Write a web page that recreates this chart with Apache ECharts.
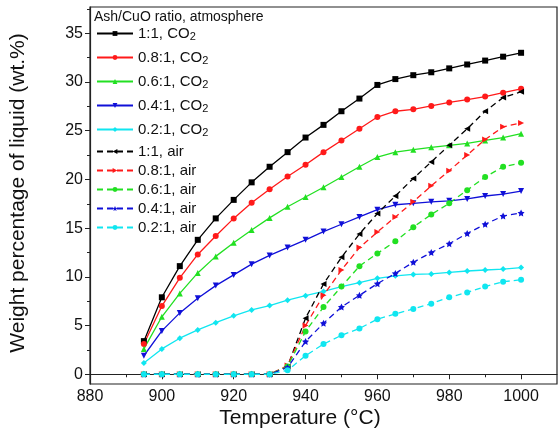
<!DOCTYPE html>
<html>
<head>
<meta charset="utf-8">
<script src="https://cdn.jsdelivr.net/npm/echarts@6/dist/echarts.min.js"></script>
<style>
  html, body { margin: 0; padding: 0; background: #fff; }
  #chart { width: 560px; height: 443px; }
</style>
</head>
<body>
<div id="chart"></div>
<script>
// Reaction temperatures (°C)
const temperatures = [895, 900, 905, 910, 915, 920, 925, 930, 935, 940, 945,
                      950, 955, 960, 965, 970, 975, 980, 985, 990, 995, 1000];

// Liquid fraction (wt.%) under CO2
const co2_1_1   = [3.4, 7.9, 11.1, 13.8, 16.0, 17.9, 19.7, 21.3, 22.8, 24.3, 25.6,
                   27.0, 28.3, 29.7, 30.3, 30.7, 31.0, 31.4, 31.8, 32.2, 32.6, 33.0];
const co2_0_8_1 = [3.1, 7.0, 9.9, 12.3, 14.2, 16.0, 17.6, 19.0, 20.3, 21.5, 22.8,
                   24.0, 25.2, 26.4, 27.0, 27.2, 27.55, 27.9, 28.2, 28.5, 28.9, 29.3];
const co2_0_6_1 = [2.6, 5.9, 8.3, 10.4, 12.1, 13.5, 14.8, 16.05, 17.2, 18.2, 19.2,
                   20.25, 21.3, 22.3, 22.8, 23.05, 23.3, 23.5, 23.7, 24.0, 24.3, 24.7];
const co2_0_4_1 = [1.9, 4.45, 6.3, 7.8, 9.1, 10.2, 11.3, 12.2, 13.0, 13.8, 14.65,
                   15.4, 16.15, 16.9, 17.4, 17.55, 17.7, 17.8, 18.0, 18.3, 18.5, 18.8];
const co2_0_2_1 = [1.15, 2.6, 3.7, 4.55, 5.3, 6.0, 6.6, 7.05, 7.6, 8.07, 8.5,
                   9.0, 9.4, 9.85, 10.1, 10.25, 10.3, 10.45, 10.6, 10.7, 10.8, 10.95];

// Liquid fraction (wt.%) under air
const air_1_1   = [0, 0, 0, 0, 0, 0, 0, 0, 0.8, 5.75, 9.26,
                   12.0, 14.4, 16.5, 18.3, 20.1, 21.8, 23.5, 25.2, 27.0, 28.4, 29.0];
const air_0_8_1 = [0, 0, 0, 0, 0, 0, 0, 0, 0.9, 5.0, 8.1,
                   10.7, 13.0, 14.6, 16.15, 17.7, 19.35, 20.9, 22.5, 24.1, 25.4, 25.8];
const air_0_6_1 = [0, 0, 0, 0, 0, 0, 0, 0, 0.8, 4.4, 6.9,
                   9.0, 11.1, 12.4, 13.65, 15.1, 16.4, 17.55, 18.9, 20.25, 21.3, 21.7];
const air_0_4_1 = [0, 0, 0, 0, 0, 0, 0, 0, 0.7, 3.36, 5.24,
                   6.9, 8.1, 9.3, 10.35, 11.5, 12.5, 13.4, 14.45, 15.4, 16.25, 16.55];
const air_0_2_1 = [0, 0, 0, 0, 0, 0, 0, 0, 0.4, 1.9, 3.1,
                   4.0, 4.7, 5.65, 6.2, 6.7, 7.25, 7.9, 8.4, 9.0, 9.5, 9.7];

// Axis ticks and labels
const xMajorTicks = [880, 900, 920, 940, 960, 980, 1000];
const xMinorTicks = [890, 910, 930, 950, 970, 990];
const yMajorTicks = [0, 5, 10, 15, 20, 25, 30, 35];
const yMinorTicks = [2.5, 7.5, 12.5, 17.5, 22.5, 27.5, 32.5, 37.5];

const FONT = 'Liberation Sans, Arial, Helvetica, sans-serif';
const INK = '#111';

const STAR = 'path://M0,-10L2.94,-4.05L9.51,-3.09L4.76,1.55L5.88,8.09L0,5L-5.88,8.09L-4.76,1.55L-9.51,-3.09L-2.94,-4.05Z';

const seriesDefs = [
  { name: '1:1, CO₂',   data: co2_1_1,   color: '#000000', symbol: 'rect',     rot: 0,   dash: 'solid' },
  { name: '0.8:1, CO₂', data: co2_0_8_1, color: '#ff1a1a', symbol: 'circle',   rot: 0,   dash: 'solid' },
  { name: '0.6:1, CO₂', data: co2_0_6_1, color: '#22e022', symbol: 'triangle', rot: 0,   dash: 'solid' },
  { name: '0.4:1, CO₂', data: co2_0_4_1, color: '#1010d8', symbol: 'triangle', rot: 180, dash: 'solid' },
  { name: '0.2:1, CO₂', data: co2_0_2_1, color: '#10e6f0', symbol: 'diamond',  rot: 0,   dash: 'solid' },
  { name: '1:1, air',   data: air_1_1,   color: '#000000', symbol: 'triangle', rot: 90,  dash: [6, 4] },
  { name: '0.8:1, air', data: air_0_8_1, color: '#ff1a1a', symbol: 'triangle', rot: -90, dash: [6, 4] },
  { name: '0.6:1, air', data: air_0_6_1, color: '#22e022', symbol: 'circle',   rot: 0,   dash: [6, 4] },
  { name: '0.4:1, air', data: air_0_4_1, color: '#1010d8', symbol: STAR,       rot: 0,   dash: [6, 4] },
  { name: '0.2:1, air', data: air_0_2_1, color: '#10e6f0', symbol: 'circle',   rot: 0,   dash: [6, 4] }
];

const series = seriesDefs.map(d => ({
  name: d.name,
  type: 'line',
  xAxisIndex: 0,
  yAxisIndex: 0,
  data: temperatures.map((t, i) => [t, d.data[i]]),
  symbol: d.symbol,
  symbolRotate: d.rot,
  symbolSize: d.symbol === STAR ? 7 : 6,
  showAllSymbol: true,
  color: d.color,
  itemStyle: { color: d.color },
  lineStyle: { color: d.color, width: 1.3, type: d.dash },
  animation: false,
  z: 2
}));

const legendBase = {
  orient: 'vertical',
  left: 96,
  padding: 0,
  itemWidth: 36,
  itemHeight: 6,
  selectedMode: false,
  textStyle: {
    fontFamily: FONT,
    fontSize: 15,
    color: INK
  }
};

const plainNumber = v => String(v);

const chart = echarts.init(document.getElementById('chart'), null, { renderer: 'canvas' });

chart.setOption({
  backgroundColor: '#ffffff',
  animation: false,
  grid: {
    left: 90, right: 3, top: 7, bottom: 59,
    show: true, borderColor: '#222', borderWidth: 1.2,
    backgroundColor: 'transparent'
  },
  xAxis: [
    {
      type: 'value', min: 880, max: 1010, position: 'bottom',
      axisLine: { show: true, lineStyle: { color: '#222', width: 1.2 } },
      axisTick: { show: true, customValues: xMajorTicks, length: 5, inside: false, lineStyle: { color: '#222' } },
      axisLabel: { show: true, customValues: xMajorTicks, formatter: plainNumber, fontFamily: FONT, fontSize: 16, color: INK, margin: 5 },
      splitLine: { show: false }
    },
    {
      type: 'value', min: 880, max: 1010, position: 'bottom',
      axisLine: { show: false },
      axisTick: { show: true, customValues: xMinorTicks, length: 3, inside: false, lineStyle: { color: '#222' } },
      axisLabel: { show: false },
      splitLine: { show: false }
    }
  ],
  yAxis: [
    {
      type: 'value', min: -1, max: 37.7, position: 'left',
      axisLine: { show: true, lineStyle: { color: '#222', width: 1.2 } },
      axisTick: { show: true, customValues: yMajorTicks, length: 5, inside: false, lineStyle: { color: '#222' } },
      axisLabel: { show: true, customValues: yMajorTicks, formatter: plainNumber, fontFamily: FONT, fontSize: 16, color: INK, margin: 7 },
      splitLine: { show: false }
    },
    {
      type: 'value', min: -1, max: 37.7, position: 'left',
      axisLine: { show: false },
      axisTick: { show: true, customValues: yMinorTicks, length: 3, inside: false, lineStyle: { color: '#222' } },
      axisLabel: { show: false },
      splitLine: { show: false }
    }
  ],
  legend: [
    Object.assign({}, legendBase, {
      top: 26,
      itemGap: 7.5,
      data: seriesDefs.slice(0, 5).map(d => d.name),
      formatter: name => '{t|' + name.replace('₂', '') + '}{s|2}',
      textStyle: Object.assign({}, legendBase.textStyle, {
        rich: {
          t: { fontFamily: FONT, fontSize: 15, color: INK },
          s: { fontFamily: FONT, fontSize: 11, color: INK, padding: [7, 0, 0, 0] }
        }
      })
    }),
    Object.assign({}, legendBase, {
      top: 144,
      itemGap: 4,
      data: seriesDefs.slice(5).map(d => d.name)
    })
  ],
  graphic: [
    {
      type: 'text', left: 94, top: 10, z: 10,
      style: { text: 'Ash/CuO ratio, atmosphere', font: '14px ' + FONT, fill: INK }
    },
    {
      type: 'text', x: 300, y: 418, z: 10,
      style: { text: 'Temperature (°C)', font: '21px ' + FONT, fill: INK, align: 'center', verticalAlign: 'middle' }
    },
    {
      type: 'text', x: 18, y: 193, rotation: Math.PI / 2, z: 10,
      style: { text: 'Weight percentage of liquid (wt.%)', font: '21px ' + FONT, fill: INK, align: 'center', verticalAlign: 'middle' }
    }
  ],
  series: series
});
</script>
</body>
</html>
